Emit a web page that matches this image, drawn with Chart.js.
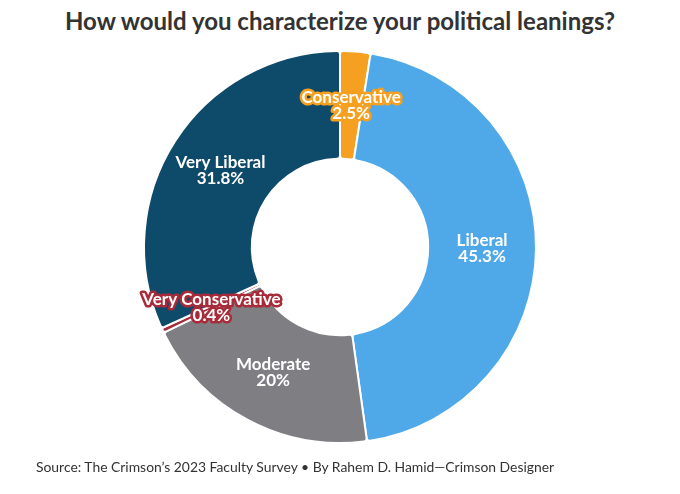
<!DOCTYPE html>
<html lang="en">
<head>
  <meta charset="UTF-8" />
  <title>Faculty political leanings</title>
  <script src="https://cdn.jsdelivr.net/npm/chart.js"></script>
  <style>
    html, body { margin: 0; padding: 0; background: #fff; }
    .wrap { position: relative; width: 680px; height: 494px; font-family: Lato, "Noto Sans", sans-serif; color: #333; }
    .wrap h1 { position: absolute; top: 6px; left: 0; width: 680px; margin: 0; text-align: center; font-size: 24px; font-weight: 700; color: #333; }
    .wrap .source { position: absolute; top: 458px; left: 36px; margin: 0; font-size: 13.9px; color: #333; }
    canvas { position: absolute; top: 0; left: 0; }
  </style>
</head>
<body>
<div class="wrap">
  <h1>How would you characterize your political leanings?</h1>
  <canvas id="donut" width="680" height="494"></canvas>
  <p class="source">Source: The Crimson’s 2023 Faculty Survey • By Rahem D. Hamid—Crimson Designer</p>
</div>
<script>
  // data, clockwise from 12 o'clock
  const categories = ['Conservative', 'Liberal', 'Moderate', 'Very Conservative', 'Very Liberal'];
  const shares = [2.5, 45.3, 20, 0.4, 31.8];
  const sliceColors = ['#f5a020', '#4fa8e8', '#7f7e83', '#a82b3a', '#0e4a6a'];

  // white labels with an outline in the slice colour
  const sliceLabels = {
    id: 'sliceLabels',
    afterDatasetsDraw(chart) {
      const ctx = chart.ctx;
      const meta = chart.getDatasetMeta(0);
      ctx.save();
      ctx.font = 'bold 17px Lato, "Noto Sans", sans-serif';
      ctx.textAlign = 'center';
      ctx.textBaseline = 'middle';
      ctx.lineJoin = 'round';
      meta.data.forEach((arc, i) => {
        const mid = (arc.startAngle + arc.endAngle) / 2;
        const r = (arc.innerRadius + arc.outerRadius) / 2;
        const x = arc.x + Math.cos(mid) * r;
        const y = arc.y + Math.sin(mid) * r;
        const lines = [categories[i], shares[i] + '%'];
        lines.forEach((txt, k) => {
          const ty = y + (k - 0.5) * 16;
          ctx.lineWidth = 5;
          ctx.strokeStyle = sliceColors[i];
          ctx.strokeText(txt, x, ty);
          ctx.fillStyle = '#fff';
          ctx.fillText(txt, x, ty);
        });
      });
      ctx.restore();
    }
  };

  const ctx = document.getElementById('donut').getContext('2d');
  new Chart(ctx, {
    type: 'doughnut',
    data: {
      labels: categories,
      datasets: [{
        data: shares,
        backgroundColor: sliceColors,
        borderColor: '#fff',
        borderWidth: 2,
        borderRadius: 3
      }]
    },
    options: {
      responsive: false,
      animation: false,
      cutout: '45%',
      layout: { padding: { top: 50, bottom: 50 } },
      plugins: {
        legend: { display: false },
        tooltip: { enabled: false }
      }
    },
    plugins: [sliceLabels]
  });
</script>
</body>
</html>
